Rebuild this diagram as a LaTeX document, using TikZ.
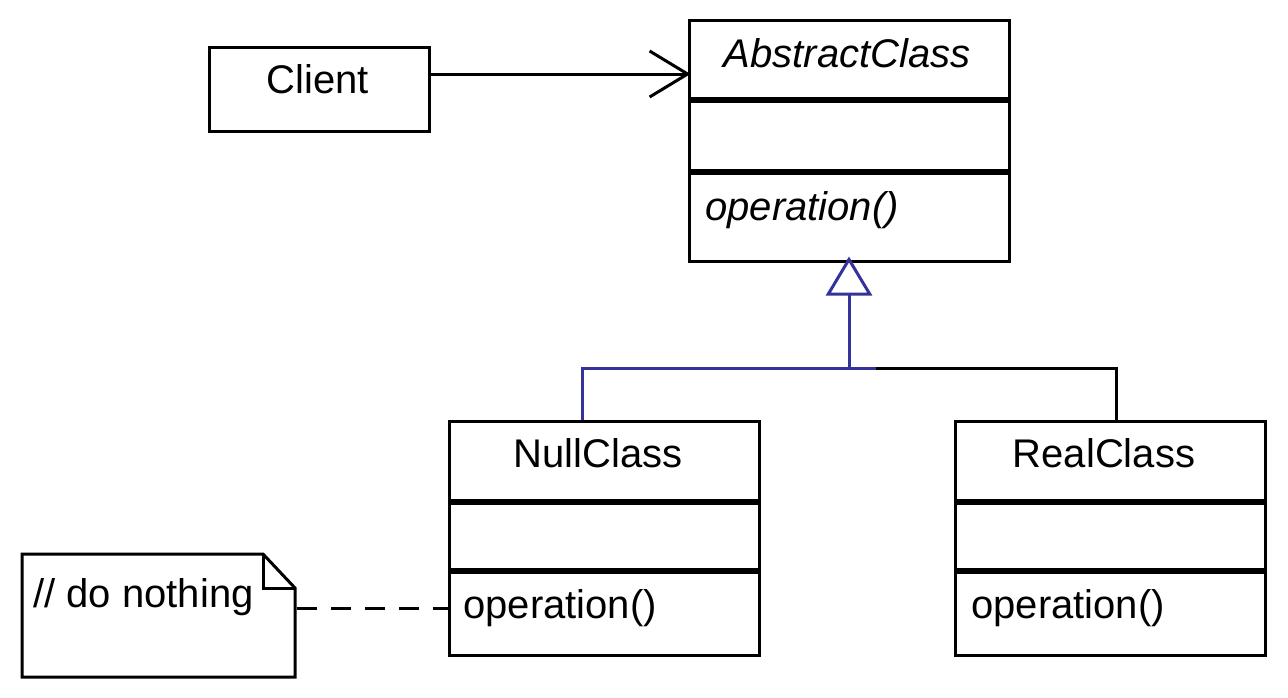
\documentclass[tikz,border=0pt]{standalone}
\usepackage{fontspec}
\setmainfont{Liberation Sans}
\usetikzlibrary{arrows.meta,calc}

\definecolor{genblue}{RGB}{51,51,153}

\tikzset{
  classbox/.style={draw, line width=1.5pt, minimum width=155pt, minimum height=117pt, inner sep=0pt},
  sepline/.style={line width=3pt},
  plainline/.style={line width=1.5pt},
  genline/.style={line width=1.5pt, genblue},
  assoc/.style={line width=1.5pt, -{Straight Barb[length=19pt,width=23pt,line width=1.5pt]}},
  txt/.style={anchor=base, inner sep=0pt, font=\fontsize{20}{24}\selectfont},
}

\begin{document}
\begin{tikzpicture}[x=0.5pt,y=-0.5pt]
  \useasboundingbox (0,0) rectangle (1288,697);

  % classes
  \node[classbox, minimum width=110pt, minimum height=42pt] (client) at (319,89) {};
  \node[classbox, minimum width=160pt, minimum height=120.5pt] (abstract) at (849,140.5) {};
  \node[classbox] (nullclass) at (604,538.5) {};
  \node[classbox] (realclass) at (1110.5,538.5) {};

  % compartments
  \draw[sepline] ([yshift=-40.5pt]abstract.north west) -- ([yshift=-40.5pt]abstract.north east);
  \draw[sepline] ([yshift=-76.5pt]abstract.north west) -- ([yshift=-76.5pt]abstract.north east);
  \foreach \c in {nullclass,realclass} {
    \draw[sepline] ([yshift=-40.75pt]\c.north west) -- ([yshift=-40.75pt]\c.north east);
    \draw[sepline] ([yshift=-75.25pt]\c.north west) -- ([yshift=-75.25pt]\c.north east);
  }

  % labels
  \node[txt] (clientname) at (318,93) {Client};
  \node[txt] (abstractname) at (847,67) {\itshape AbstractClass};
  \node[txt, anchor=base west] (abstractop) at (705,220) {\itshape operation()};
  \node[txt] (nullname) at (598,467) {NullClass};
  \node[txt, anchor=base west] (nullop) at (463,618) {operation()};
  \node[txt] (realname) at (1104,467) {RealClass};
  \node[txt, anchor=base west] (realop) at (971,618) {operation()};

  % note
  \draw[plainline, line join=miter] (22,554) -- (263,554) -- (295,588) -- (295,677) -- (22,677) -- cycle;
  \draw[plainline] (263,554) -- (263,588) -- (295,588);
  \node[txt, anchor=base west] (notetext) at (33,607) {// do nothing};
  \coordinate (noteR) at (297,608);
  \draw[plainline, dash pattern=on 10pt off 7pt] (noteR) -- (noteR -| nullclass.west);

  % association
  \draw[assoc] ([yshift=7.5pt]client.east) coordinate (c1) -- ([xshift=1.5pt]c1 -| abstract.west);

  % generalisation
  \coordinate (bus) at (849,368);
  \draw[genline] ([xshift=-11pt]nullclass.north) |- ([xshift=13.5pt]bus);
  \draw[plainline] ([xshift=13.5pt]bus) -| ([xshift=2.75pt]realclass.north);
  \draw[genline, -{Triangle[open,fill=white,length=19.5pt,width=23pt,line width=1.5pt]}] (bus) -- ([yshift=3pt]abstract.south);
\end{tikzpicture}
\end{document}
